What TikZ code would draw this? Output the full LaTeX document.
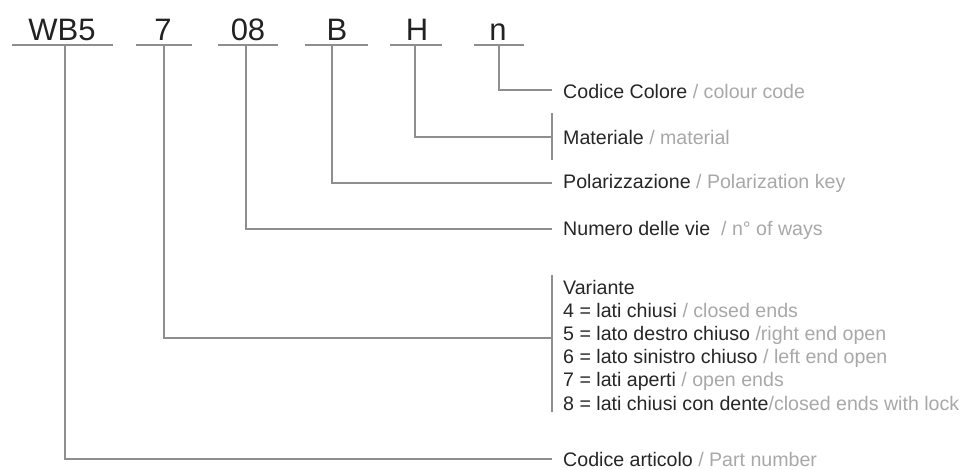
\documentclass[tikz,border=0pt]{standalone}
\usepackage{fontspec}
\setmainfont{Liberation Sans}
\definecolor{linegray}{HTML}{8E8E8E}
\definecolor{darktext}{HTML}{262626}
\definecolor{lighttext}{HTML}{A8A8A8}
\definecolor{codetext}{HTML}{222222}
\newcommand{\en}[1]{\textcolor{lighttext}{#1}}
\begin{document}
\begin{tikzpicture}[x=1pt,y=-1pt,
  conn/.style={draw=linegray,line width=1.1pt},
  code/.style={font=\fontsize{31}{31}\selectfont, text=codetext, anchor=base, inner sep=0pt},
  desc/.style={anchor=west, inner sep=0pt, font=\fontsize{19.6}{23.2}\selectfont, text=darktext, align=left}]
\useasboundingbox (0,0) rectangle (968,469);
% code letters
\node[code] (cwb) at (62,40) {WB5};
\node[code] (c7) at (163,40) {7};
\node[code] (c08) at (248,40) {08};
\node[code] (cb) at (337,40) {B};
\node[code] (ch) at (417,40) {H};
\node[code] (cn) at (498,40) {n};
% underlines
\draw[conn] (12,45) -- (113,45);
\draw[conn] (136,45) -- (192,45);
\draw[conn] (218,45) -- (278,45);
\draw[conn] (305,45) -- (368,45);
\draw[conn] (390,45) -- (442,45);
\draw[conn] (474,45) -- (524,45);
% start points of connectors
\coordinate (swb) at (65,45);
\coordinate (s7) at (164,45);
\coordinate (s08) at (246,45);
\coordinate (sb) at (332,45);
\coordinate (sh) at (415,45);
\coordinate (sn) at (499,45);
% descriptions
\node[desc] (dn) at (563,91) {Codice Colore \en{/ colour code}};
\node[desc] (dh) at (563,137) {Materiale \en{/ material}};
\node[desc] (db) at (563,183) {Polarizzazione \en{/ Polarization key}};
\node[desc] (d08) at (563,230) {Numero delle vie~ \en{/ n° of ways}};
\node[desc] (d7) at (563,345) {Variante\\
4 = lati chiusi \en{/ closed ends}\\
5 = lato destro chiuso \en{/right end open}\\
6 = lato sinistro chiuso \en{/ left end open}\\
7 = lati aperti \en{/ open ends}\\
8 = lati chiusi con dente\en{/closed ends with lock}};
\node[desc] (dwb) at (563,459) {Codice articolo \en{/ Part number}};
% connector ends
\coordinate (en) at (552,90);
\coordinate (eh) at (552,137);
\coordinate (eb) at (552,183);
\coordinate (e08) at (552,229);
\coordinate (e7) at (552,338);
\coordinate (ewb) at (552,459);
\draw[conn] (sn) |- (en);
\draw[conn] (sh) |- (eh);
\draw[conn] (sb) |- (eb);
\draw[conn] (s08) |- (e08);
\draw[conn] (s7) |- (e7);
\draw[conn] (swb) |- (ewb);
% brackets
\coordinate (bht) at (552,113);
\coordinate (bhb) at (552,160);
\draw[conn] (bht) -- (bhb);
\coordinate (bvt) at (552,275);
\coordinate (bvb) at (552,412);
\draw[conn] (bvt) -- (bvb);
\end{tikzpicture}
\end{document}
